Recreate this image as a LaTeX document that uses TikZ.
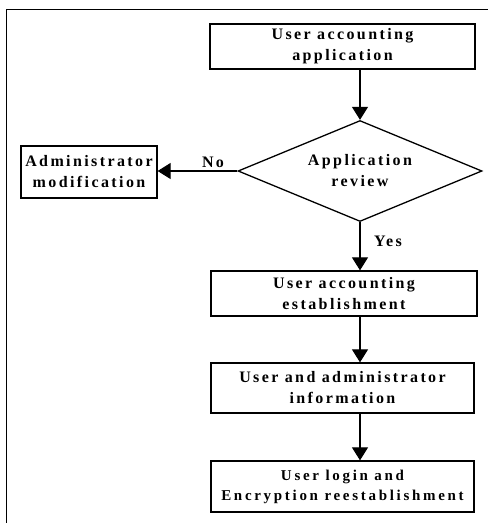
\documentclass[tikz,border=0pt]{standalone}
\usepackage{fontspec}
\newfontfamily\lbl[LetterSpace=15]{Liberation Serif}
\newfontfamily\lblsm[LetterSpace=18]{Liberation Serif}
\usetikzlibrary{arrows.meta,shapes.geometric}
\begin{document}
\begin{tikzpicture}[x=1pt,y=-1pt,
  every node/.style={font=\lbl\bfseries\fontsize{16}{21}\selectfont, align=center, inner sep=0pt},
  box/.style={draw, line width=1.3pt, rectangle},
  dec/.style={draw, line width=1.3pt, diamond, aspect=2.4},
  flow/.style={line width=1.1pt, -{Triangle[width=16pt,length=13pt]}},
  lab/.style={}
]
\useasboundingbox (0,0) rectangle (488,523);
\draw[line width=1pt] (6,523) -- (6,9) -- (488,9);

\node[box, minimum width=265pt, minimum height=45pt] (b1) at (342.5,46.5) {User accounting\\application};
\node[dec, minimum width=244pt, minimum height=101pt] (d) at (360,171) {Application\\review};
\node[box, minimum width=136pt, minimum height=52pt] (adm) at (89,172) {Administrator\\modification};
\node[box, minimum width=266pt, minimum height=45pt] (b3) at (344,293.5) {User accounting\\establishment};
\node[box, minimum width=263pt, minimum height=50pt] (b4) at (342.5,388) {User and administrator\\information};
\node[box, minimum width=263pt, minimum height=51pt, font=\lblsm\bfseries\fontsize{15}{20}\selectfont] (b5) at (342.5,486.5) {User login and\\Encryption reestablishment};

\draw[flow] (b1.south -| d.north) -- (d.north);
\draw[flow] (d.west) -- (d.west -| adm.east);
\draw[flow] (d.south) -- (b3.north -| d.south);
\draw[flow] (b3.south -| d.south) -- (b4.north -| d.south);
\draw[flow] (b4.south -| d.south) -- (b5.north -| d.south);

\node[lab] (no) at (213,162) {No};
\node[lab] (yes) at (388,241) {Yes};
\end{tikzpicture}
\end{document}
